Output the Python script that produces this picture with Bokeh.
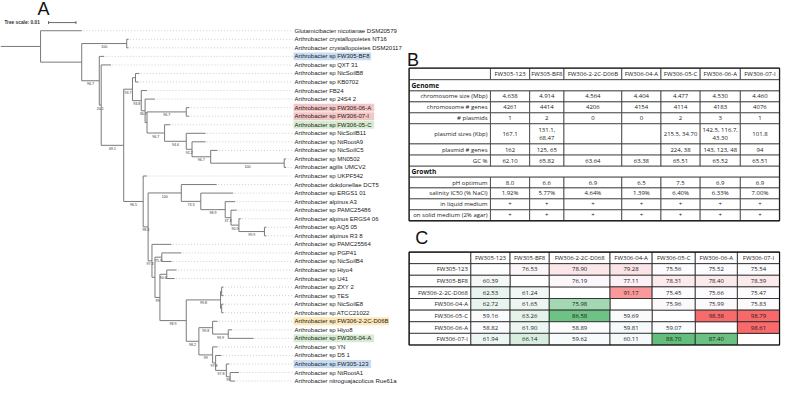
from bokeh.plotting import figure
from bokeh.models import Range1d, ColumnDataSource, LinearColorMapper
from bokeh.embed import file_html
from bokeh.resources import INLINE
from bokeh.core.properties import value

# ======================= DATA =======================
# Phylogeny (Newick, branch lengths in substitutions/site, internal labels = bootstrap)
CLADE_UPPER = ("((Arthrobacter sp NicSoilB8:0.0014,Arthrobacter sp KB0702:0.0011):0.0011,"
               "(Arthrobacter FB24:0.0021,(Arthrobacter sp 24S4 2:0.0036,"
               "((Arthrobacter sp FW306-06-A:0.0011,Arthrobacter sp FW306-07-I:0.0011)96.7:0.0143,"
               "(Arthrobacter sp FW306-05-C:0.0021,(Arthrobacter sp NicSoilB11:0.0071,"
               "(Arthrobacter sp NtRootA9:0.0050,(Arthrobacter sp NicSoilC5:0.0025,"
               "(Arthrobacter sp MN0502:0.0007,Arthrobacter agilis UMCV2:0.0007)100:0.0268)96.7:0.0068)"
               "92.2:0.0021)94.6:0.0079)96.7:0.0064):0.0007)36.7:0.0014)93.8:0.0032)93.7:0.0032")
CLADE_LOWER = ("(Arthrobacter sp PAMC25564:0.0071,((Arthrobacter sp PGP41:0.0071,Arthrobacter sp NicSoilB4:0.0036)75.9:0.0025,"
               "((Arthrobacter sp Hiyo4:0.0036,Arthrobacter sp U41:0.0029)90.6:0.0025,"
               "(((Arthrobacter sp ZXY 2:0.0007,Arthrobacter sp TES:0.0007):0.0004,"
               "(Arthrobacter sp NicSoilE8:0.0007,Arthrobacter sp ATCC21022:0.0007):0.0004)99.8:0.0125,"
               "((Arthrobacter sp FW306-2-2C-D06B:0.0018,(Arthrobacter sp Hiyo8:0.0014,Arthrobacter sp FW306-04-A:0.0093)99.9:0.0057)99.8:0.0050,"
               "(Arthrobacter sp YN:0.0018,(Arthrobacter sp D5 1:0.0021,(Arthrobacter sp FW305-123:0.0011,"
               "(Arthrobacter sp NtRootA1:0.0032,Arthrobacter nitroguajacolicus Rue61a:0.0018)99:0.0014)97.8:0.0039)97.8:0.0011)99:0.0050)"
               "98.2:0.0046)98.9:0.0096)99:0.0018):0.0011)97.3:0.0014")
CLADE_ALPINUS = ("(Arthrobacter dokdonellae DCT5:0.0129,(Arthrobacter sp ERGS1 01:0.0118,(Arthrobacter alpinus A3:0.0036,"
                 "(Arthrobacter sp PAMC25486:0.0021,(Arthrobacter alpinus ERGS4 06:0.0007,"
                 "(Arthrobacter sp AQ5 05:0.0007,Arthrobacter alpinus R3 8:0.0007)99.9:0.0093)90.9:0.0029)37.3:0.0021)"
                 "98.9:0.0089)73.3:0.0071)100:0.0121")
CLADE_L = "(Arthrobacter sp UKPF542:0.0014,(" + CLADE_ALPINUS + "," + CLADE_LOWER + ")98.3:0.0018)96.5:0.0071"
NEWICK = ("(Glutamicibacter nicotianae DSM20579:0.0150,((Arthrobacter crystallopoietes NT16:0.0007,"
          "Arthrobacter crystallopoietes DSM20117:0.0007)100:0.0164,(Arthrobacter sp FW305-BF8:0.0018,"
          "(Arthrobacter sp QXT 31:0.0036,(" + CLADE_UPPER + "," + CLADE_L + ")69.1:0.0082)20.1:0.0007)96.7:0.0064):0.0150):0.0146;")

highlight_names = ["Arthrobacter sp FW305-BF8", "Arthrobacter sp FW306-06-A", "Arthrobacter sp FW306-07-I",
                   "Arthrobacter sp FW306-05-C", "Arthrobacter sp FW306-2-2C-D06B", "Arthrobacter sp FW306-04-A",
                   "Arthrobacter sp FW305-123"]
highlight_colors = ["#c9ddf2", "#f5c6c6", "#f5c6c6", "#d6ecd0", "#fde8b8", "#d6ecd0", "#c9ddf2"]
tree_scale = 0.01

# Table B
strains_b = ["FW305-123", "FW305-BF8", "FW306-2-2C-D06B", "FW306-04-A", "FW306-05-C", "FW306-06-A", "FW306-07-I"]
chromosome_size = ["4.638", "4.914", "4.564", "4.404", "4.477", "4.530", "4.460"]
chromosome_genes = ["4261", "4414", "4206", "4154", "4114", "4183", "4076"]
n_plasmids = ["1", "2", "0", "0", "2", "3", "1"]
plasmid_sizes = ["167.1", "131.1,\n68.47", "", "", "215.5, 34.70", "142.5, 116.7,\n43.30", "101.8"]
plasmid_genes = ["162", "125, 65", "", "", "224, 38", "143, 123, 48", "94"]
gc_percent = ["62.10", "65.82", "63.64", "63.38", "65.51", "65.52", "65.51"]
ph_optimum = ["8.0", "6.6", "6.9", "6.5", "7.5", "6.9", "6.9"]
salinity_ic50 = ["1.92%", "5.77%", "4.64%", "1.39%", "6.40%", "6.33%", "7.00%"]
liquid_growth = ["+"] * 7
solid_growth = ["+"] * 7

# Table C (upper triangle: red scale, lower triangle: green scale)
strains_c = ["FW305-123", "FW305-BF8", "FW306-2-2C-D068", "FW306-04-A", "FW306-05-C", "FW306-06-A", "FW306-07-I"]
matrix_c = [
    [None, 76.53, 78.90, 79.28, 75.56, 75.52, 75.54],
    [60.39, None, 76.19, 77.11, 78.31, 78.40, 78.39],
    [62.53, 61.24, None, 91.17, 75.45, 75.66, 75.47],
    [62.72, 61.65, 75.98, None, 75.96, 75.99, 75.83],
    [59.16, 63.26, 86.58, 59.69, None, 98.38, 98.79],
    [58.82, 61.90, 58.89, 59.81, 59.07, None, 98.61],
    [61.94, 66.14, 59.62, 60.11, 88.70, 87.40, None],
]

# ======================= FIGURE =======================
p = figure(width=781, height=385, x_range=Range1d(0, 797), y_range=Range1d(401, 0),
           output_backend="svg", toolbar_location=None, min_border=0,
           x_axis_location=None, y_axis_location=None)
p.grid.visible = False
p.outline_line_color = None
p.background_fill_color = "white"

SANS = value("Liberation Sans")
TFONT = value("Open Sans")

# ---------- tree ----------
def parse(s):
    pos = 0
    def node():
        nonlocal pos
        children = []
        if s[pos] == "(":
            pos += 1
            children.append(node())
            while s[pos] == ",":
                pos += 1
                children.append(node())
            pos += 1
        st = pos
        while s[pos] not in ":,);":
            pos += 1
        name = s[st:pos]
        ln = 0.0
        if s[pos] == ":":
            pos += 1
            st = pos
            while s[pos] not in ",);":
                pos += 1
            ln = float(s[st:pos])
        return {"name": name, "len": ln, "children": children}
    return node()

PX_PER_UNIT = 2800.0
ROOT_X = 0.0
LEAF_Y0 = 31.5
LEAF_DY = 8.9
LABEL_X = 300.0

tree = parse(NEWICK)
leaves = []
def layout(n, px):
    n["px"] = px
    n["x"] = px + n["len"] * PX_PER_UNIT
    if n["children"]:
        for c in n["children"]:
            layout(c, n["x"])
        n["y"] = (n["children"][0]["y"] + n["children"][-1]["y"]) / 2
    else:
        n["y"] = LEAF_Y0 + len(leaves) * LEAF_DY
        leaves.append(n)
layout(tree, ROOT_X)

hx0, hx1, hy = [], [], []
vx, vy0, vy1 = [], [], []
bx, by, bt = [], [], []
def collect(n):
    hx0.append(n["px"]); hx1.append(n["x"]); hy.append(n["y"])
    if n["children"]:
        vx.append(n["x"]); vy0.append(n["children"][0]["y"]); vy1.append(n["children"][-1]["y"])
        if n["name"]:
            bx.append((n["px"] + n["x"]) / 2); by.append(n["y"] + 3.2); bt.append(n["name"])
        for c in n["children"]:
            collect(c)
collect(tree)

# highlight boxes
hl_x, hl_w, hl_y, hl_c = [], [], [], []
for nm, col in zip(highlight_names, highlight_colors):
    lf = [l for l in leaves if l["name"] == nm][0]
    w = len(nm) * 3.05 + 3
    hl_x.append(LABEL_X - 1 + w / 2); hl_w.append(w); hl_y.append(lf["y"]); hl_c.append(col)
p.rect(x=hl_x, y=hl_y, width=hl_w, height=8.2, fill_color=hl_c, line_color=None)

# leader dots
p.segment(x0=[l["x"] + 1.5 for l in leaves], y0=[l["y"] for l in leaves],
          x1=[LABEL_X - 2 for l in leaves], y1=[l["y"] for l in leaves],
          line_color="#b8b8b8", line_width=0.7, line_dash="1 2")
p.segment(x0=hx0, y0=hy, x1=hx1, y1=hy, line_color="#7a7a7a", line_width=1)
p.segment(x0=vx, y0=vy0, x1=vx, y1=vy1, line_color="#7a7a7a", line_width=1)
p.text(x=bx, y=by, text=bt, text_font=SANS, text_font_size="3.6px", text_color="#333333",
       text_align="center", text_baseline="middle")
p.text(x=[LABEL_X] * len(leaves), y=[l["y"] for l in leaves], text=[l["name"] for l in leaves],
       text_font=SANS, text_font_size="6px", text_color="#1a1a1a", text_baseline="middle")

# tree scale
SB_X0, SB_Y = 49.0, 23.0
sb_len = tree_scale * PX_PER_UNIT
p.segment(x0=[SB_X0, SB_X0, SB_X0 + sb_len], y0=[SB_Y, SB_Y - 1.5, SB_Y - 1.5],
          x1=[SB_X0 + sb_len, SB_X0, SB_X0 + sb_len], y1=[SB_Y, SB_Y + 1.5, SB_Y + 1.5],
          line_color="#444444", line_width=0.8)
p.text(x=[4], y=[SB_Y], text=["Tree scale: %s" % tree_scale], text_font=SANS, text_font_size="4.8px",
       text_font_style="bold", text_color="#333333", text_baseline="middle")

# panel letters
p.text(x=[44, 421, 430], y=[9, 62, 247], text=["A", "B", "C"], text_font=SANS, text_font_size="18px",
       text_color="#111111", text_align="center", text_baseline="middle")

# ---------- table B ----------
BX = [417, 500, 540, 575, 634, 674, 714, 755, 795]
B_TOP = 70.5
rows_b = [("header", "", strains_b, 12.0),
          ("section", "Genome", None, 11.7),
          ("row", "chromosome size (Mbp)", chromosome_size, 11.4),
          ("row", "chromosome # genes", chromosome_genes, 11.4),
          ("row", "# plasmids", n_plasmids, 11.4),
          ("row", "plasmid sizes (Kbp)", plasmid_sizes, 21.0),
          ("row", "plasmid # genes", plasmid_genes, 11.6),
          ("row", "GC %", gc_percent, 11.6),
          ("section", "Growth", None, 11.4),
          ("row", "pH optimum", ph_optimum, 11.2),
          ("row", "salinity IC50 (% NaCl)", salinity_ic50, 11.4),
          ("row", "in liquid medium", liquid_growth, 11.4),
          ("row", "on solid medium (2% agar)", solid_growth, 11.4)]

cx, cy, cw, ch = [], [], [], []
tx, ty, tt = [], [], []
lx, ly, lt = [], [], []
sx, sy, st = [], [], []
y = B_TOP
for kind, lab, vals, h in rows_b:
    yc = y + h / 2
    if kind == "section":
        cx.append((BX[0] + BX[-1]) / 2); cy.append(yc); cw.append(BX[-1] - BX[0]); ch.append(h)
        sx.append(BX[0] + 2.5); sy.append(yc); st.append(lab)
    else:
        for i in range(len(BX) - 1):
            cx.append((BX[i] + BX[i + 1]) / 2); cy.append(yc); cw.append(BX[i + 1] - BX[i]); ch.append(h)
        if lab:
            lx.append(BX[1] - 3); ly.append(yc); lt.append(lab)
        for i, v in enumerate(vals):
            parts = v.split("\n")
            for k, part in enumerate(parts):
                tx.append((BX[i + 1] + BX[i + 2]) / 2)
                ty.append(yc + (k - (len(parts) - 1) / 2) * 7.6)
                tt.append(part)
    y += h
B_BOTTOM = y
p.rect(x=cx, y=cy, width=cw, height=ch, fill_color="white", line_color="#3a3a3a", line_width=0.8)
p.rect(x=[(BX[0] + BX[-1]) / 2], y=[(B_TOP + B_BOTTOM) / 2], width=[BX[-1] - BX[0]],
       height=[B_BOTTOM - B_TOP], fill_color=None, line_color="#222222", line_width=1.3)
p.text(x=tx, y=ty, text=tt, text_font=TFONT, text_font_size="6px", text_color="#1a1a1a",
       text_align="center", text_baseline="middle")
p.text(x=lx, y=ly, text=lt, text_font=TFONT, text_font_size="6px", text_color="#1a1a1a",
       text_align="right", text_baseline="middle")
p.text(x=sx, y=sy, text=st, text_font=TFONT, text_font_size="6.6px", text_font_style="bold",
       text_color="#111111", text_baseline="middle")

# ---------- table C ----------
CX = [417, 480, 520, 560, 622, 665, 709, 752, 795]
C_TOP = 262.0
C_RH = 12.1

def ramp(c0, c1, n=256):
    a = [int(c0[i:i + 2], 16) for i in (1, 3, 5)]
    b = [int(c1[i:i + 2], 16) for i in (1, 3, 5)]
    out = []
    for k in range(n):
        t = k / (n - 1)
        out.append("#%02x%02x%02x" % tuple(round(a[j] + (b[j] - a[j]) * t) for j in range(3)))
    return out

upper_vals = [matrix_c[r][c] for r in range(7) for c in range(7) if c > r]
lower_vals = [matrix_c[r][c] for r in range(7) for c in range(7) if c < r]
red_map = LinearColorMapper(palette=ramp("#fcfcff", "#f8696b"), low=min(upper_vals), high=max(upper_vals))
green_map = LinearColorMapper(palette=ramp("#fcfcff", "#63be7b"), low=min(lower_vals), high=max(lower_vals))

plain = dict(x=[], y=[], w=[], h=[])
up = dict(x=[], y=[], w=[], h=[], v=[])
lo = dict(x=[], y=[], w=[], h=[], v=[])
vt = dict(x=[], y=[], t=[])
for i in range(len(CX) - 1):
    plain["x"].append((CX[i] + CX[i + 1]) / 2); plain["y"].append(C_TOP + C_RH / 2)
    plain["w"].append(CX[i + 1] - CX[i]); plain["h"].append(C_RH)
hdr_x = [(CX[i + 1] + CX[i + 2]) / 2 for i in range(7)]
for r in range(7):
    yc = C_TOP + C_RH * (r + 1.5)
    plain["x"].append((CX[0] + CX[1]) / 2); plain["y"].append(yc)
    plain["w"].append(CX[1] - CX[0]); plain["h"].append(C_RH)
    for c in range(7):
        v = matrix_c[r][c]
        xc = (CX[c + 1] + CX[c + 2]) / 2
        w = CX[c + 2] - CX[c + 1]
        if v is None:
            d = plain
        elif c > r:
            d = up
        else:
            d = lo
        d["x"].append(xc); d["y"].append(yc); d["w"].append(w); d["h"].append(C_RH)
        if v is not None:
            d["v"].append(v)
            vt["x"].append(xc); vt["y"].append(yc); vt["t"].append("%.2f" % v)

p.rect(x="x", y="y", width="w", height="h", source=ColumnDataSource(plain), fill_color="white",
       line_color="#222222", line_width=0.8)
p.rect(x="x", y="y", width="w", height="h", source=ColumnDataSource(up),
       fill_color={"field": "v", "transform": red_map}, line_color="#222222", line_width=0.8)
p.rect(x="x", y="y", width="w", height="h", source=ColumnDataSource(lo),
       fill_color={"field": "v", "transform": green_map}, line_color="#222222", line_width=0.8)
p.rect(x=[(CX[0] + CX[-1]) / 2], y=[C_TOP + C_RH * 4], width=[CX[-1] - CX[0]], height=[C_RH * 8],
       fill_color=None, line_color="#111111", line_width=1.2)
p.text(x=hdr_x, y=[C_TOP + C_RH / 2] * 7, text=strains_c, text_font=TFONT, text_font_size="6px",
       text_color="#1a1a1a", text_align="center", text_baseline="middle")
p.text(x=[CX[1] - 3] * 7, y=[C_TOP + C_RH * (r + 1.5) for r in range(7)], text=strains_c, text_font=TFONT,
       text_font_size="6px", text_color="#1a1a1a", text_align="right", text_baseline="middle")
p.text(x="x", y="y", text="t", source=ColumnDataSource(vt), text_font=TFONT, text_font_size="6px",
       text_color="#1a1a1a", text_align="center", text_baseline="middle")

open("out.html", "w").write(file_html(p, INLINE))
